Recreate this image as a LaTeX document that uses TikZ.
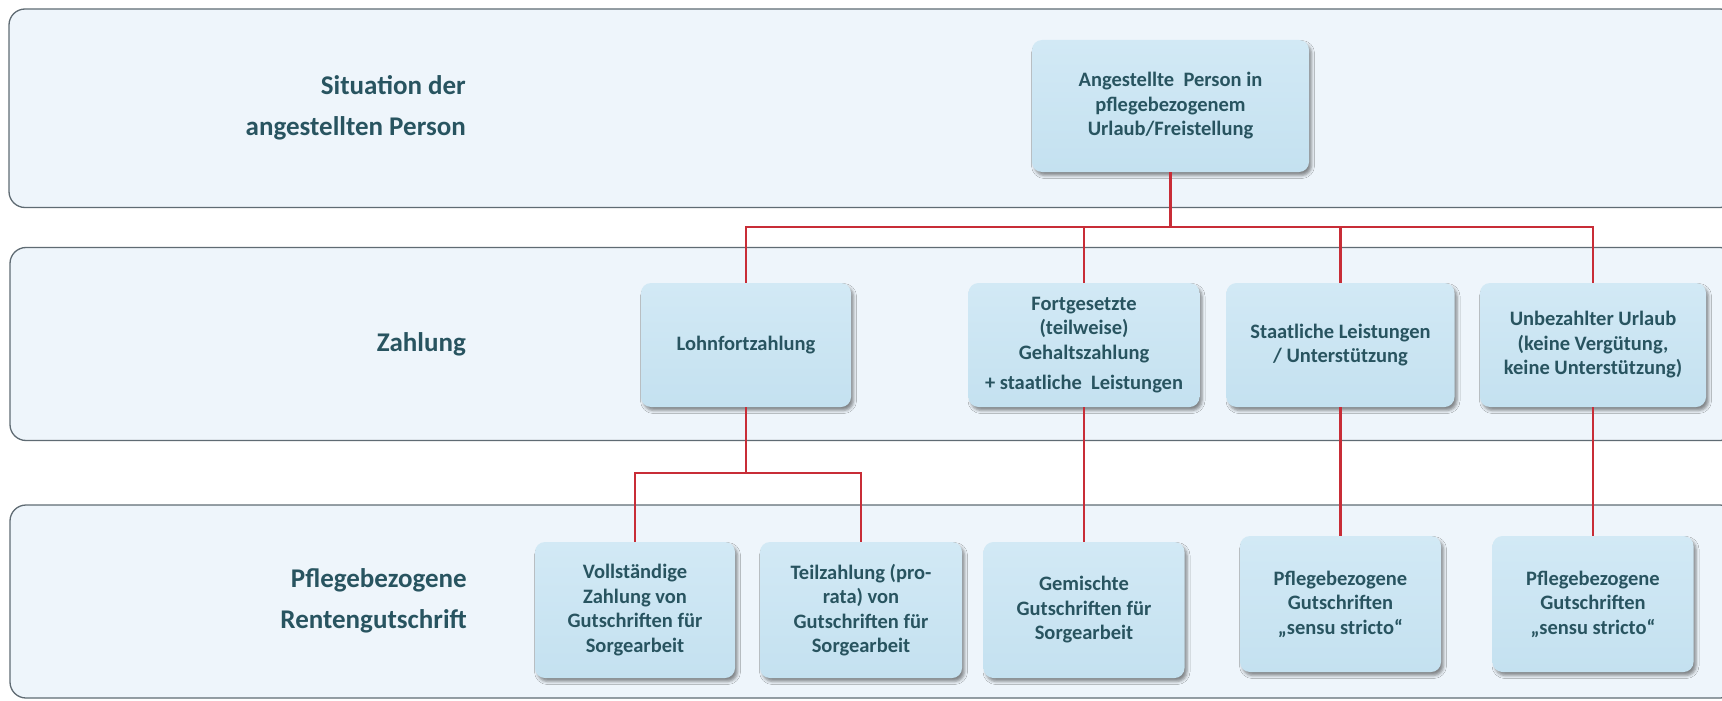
\documentclass[tikz,border=0pt]{standalone}
\usepackage{fontspec}
\setmainfont{Carlito}
\usetikzlibrary{shadows.blur}

\definecolor{bandfill}{RGB}{238,245,251}
\definecolor{bandline}{RGB}{95,107,115}
\definecolor{boxtop}{RGB}{210,233,245}
\definecolor{boxbot}{RGB}{196,225,240}
\definecolor{txt}{RGB}{40,84,96}
\definecolor{link}{RGB}{200,45,55}

\tikzset{
  band/.style={draw=bandline, line width=1.3pt, fill=bandfill, rounded corners=16pt},
  rowlabel/.style={anchor=east, align=right, text=txt, inner sep=0pt,
    font=\fontsize{27}{41}\selectfont\bfseries},
  card/.style={rectangle, rounded corners=10pt, top color=boxtop, bottom color=boxbot,
    draw=none, text=txt, align=center, inner sep=0pt,
    font=\fontsize{20.5}{24.5}\selectfont\bfseries,
    blur shadow={shadow xshift=2.5pt, shadow yshift=-3.5pt, shadow blur radius=3pt, shadow opacity=45}},
  topcard/.style={card, minimum width=277pt, minimum height=132pt},
  paycard/.style={card, minimum height=124pt},
  creditcard/.style={card, minimum width=201pt, minimum height=136pt},
  wire/.style={draw=link, line width=2.2pt},
}

\begin{document}
\begin{tikzpicture}[x=1pt,y=-1pt]
\useasboundingbox (0,0) rectangle (1722,701);

% three horizontal bands, open to the right edge
\begin{scope}
  \clip (0,0) rectangle (1722,701);
  \draw[band] (9,9) rectangle (1736,207.5);
  \draw[band] (10,247.5) rectangle (1736,440.5);
  \draw[band] (10,505) rectangle (1736,698);
\end{scope}

% row titles
\node[rowlabel] (lblA) at (466,108) {Situation der\\angestellten Person};
\node[rowlabel] (lblB) at (466,344) {Zahlung};
\node[rowlabel] (lblC) at (467,601) {Pflegebezogene\\Rentengutschrift};

% situation
\node[topcard] (top) at (1170.5,106) {Angestellte\ \ Person in\\pflegebezogenem\\Urlaub/Freistellung};

% payment options
\node[paycard, minimum width=210pt] (lohn) at (746,345) {Lohnfortzahlung};
\node[paycard, minimum width=231pt] (fort) at (1084,345)
  {Fortgesetzte\\(teilweise)\\Gehaltszahlung\\[6pt]+ staatliche\ \ Leistungen};
\node[paycard, minimum width=228pt] (staat) at (1340.5,345) {Staatliche Leistungen\\/ Unterstützung};
\node[paycard, minimum width=226pt] (unbez) at (1593,345)
  {Unbezahlter Urlaub\\(keine Vergütung,\\keine Unterstützung)};

% pension credits
\node[creditcard, minimum width=200pt] (voll) at (635,610)
  {Vollständige\\Zahlung von\\Gutschriften für\\Sorgearbeit};
\node[creditcard, minimum width=202pt] (teil) at (861,610)
  {Teilzahlung (pro-\\rata) von\\Gutschriften für\\Sorgearbeit};
\node[creditcard] (gem) at (1084,610) {Gemischte\\Gutschriften für\\Sorgearbeit};
\node[creditcard] (pfA) at (1340.5,604) {Pflegebezogene\\Gutschriften\\„sensu stricto“};
\node[creditcard] (pfB) at (1593,604) {Pflegebezogene\\Gutschriften\\„sensu stricto“};

% connectors
\coordinate (hubA) at (1170.5,227);
\coordinate (hubB) at (746,473);
\draw[wire] (top.south) -- (hubA);
\draw[wire] (lohn.north) |- (hubA);
\draw[wire] (unbez.north) |- (hubA);
\draw[wire] (fort.north) -- (fort.north |- hubA);
\draw[wire] (staat.north) -- (staat.north |- hubA);

\draw[wire] (lohn.south) -- (hubB);
\draw[wire] (voll.north) |- (hubB);
\draw[wire] (teil.north) |- (hubB);
\draw[wire] (fort.south) -- (gem.north);
\draw[wire] (staat.south) -- (pfA.north);
\draw[wire] (unbez.south) -- (pfB.north);
\end{tikzpicture}
\end{document}
